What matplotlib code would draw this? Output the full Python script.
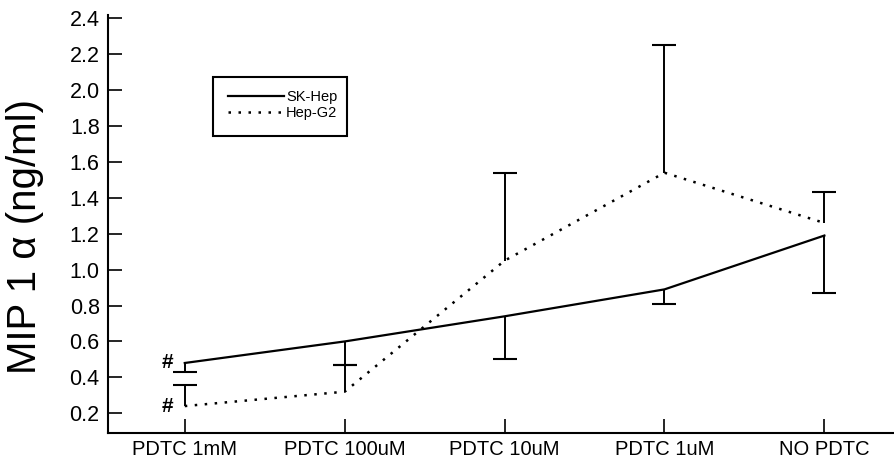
import numpy as np
import matplotlib
matplotlib.use("Agg")
import matplotlib.pyplot as plt
from matplotlib.patches import Rectangle
from matplotlib.lines import Line2D

plt.rcParams['font.family'] = ['Liberation Sans', 'DejaVu Sans']

#Data
categories = ["PDTC 1mM", "PDTC 100uM", "PDTC 10uM", "PDTC 1uM", "NO PDTC"]
sk_hep = [0.48, 0.60, 0.74, 0.89, 1.19]
sk_hep_err_low = [0.05, 0.13, 0.24, 0.08, 0.32]
hep_g2 = [0.24, 0.32, 1.05, 1.54, 1.26]
hep_g2_err_up = [0.12, 0.15, 0.49, 0.71, 0.17]
yticks = [0.2, 0.4, 0.6, 0.8, 1.0, 1.2, 1.4, 1.6, 1.8, 2.0, 2.2, 2.4]

x = np.arange(len(categories))
sk_low = np.array(sk_hep) - np.array(sk_hep_err_low)
g2_high = np.array(hep_g2) + np.array(hep_g2_err_up)

fig = plt.figure(figsize=(8.95, 4.71), dpi=100)
ax = fig.add_axes([0.1207, 0.0807, 0.879, 0.888])

dotted = (0, (1, 3))
ax.plot(x, sk_hep, color='black', lw=1.6, ls='-')
ax.plot(x, hep_g2, color='black', lw=1.8, ls=dotted)

# one sided error bars
ax.vlines(x, sk_low, sk_hep, color='black', lw=1.4)
ax.plot(x, sk_low, ls='none', marker='_', markersize=17, mew=1.5, color='black')
ax.vlines(x, hep_g2, g2_high, color='black', lw=1.4)
ax.plot(x, g2_high, ls='none', marker='_', markersize=17, mew=1.5, color='black')

# significance marks
ax.text(x[0] - 0.11, sk_hep[0], '#', ha='center', va='center', fontsize=15, fontweight='bold')
ax.text(x[0] - 0.11, hep_g2[0], '#', ha='center', va='center', fontsize=15, fontweight='bold')

ax.set_xlim(-0.48, 4.44)
ax.set_ylim(0.09, 2.42)
ax.set_xticks(x)
ax.set_xticklabels(categories, fontsize=14.5)
ax.set_yticks(yticks)
ax.set_yticklabels(["%.1f" % v for v in yticks], fontsize=15.5)
ax.tick_params(axis='both', direction='in', length=10, width=1.2, color='black')
ax.tick_params(axis='x', pad=5)
ax.tick_params(axis='y', pad=6)
for s in ['top', 'right']:
    ax.spines[s].set_visible(False)
for s in ['left', 'bottom']:
    ax.spines[s].set_linewidth(1.5)

ax.set_ylabel(u'MIP 1 \u03b1 (ng/ml)', fontsize=29)
ax.yaxis.set_label_coords(-0.082, 0.47)

# legend box
ax.add_patch(Rectangle((0.133, 0.711), 0.171, 0.141, transform=ax.transAxes,
                       fill=False, edgecolor='black', lw=1.5))
handles = [Line2D([], [], color='black', lw=1.6, ls='-'),
           Line2D([], [], color='black', lw=1.8, ls=dotted)]
leg = ax.legend(handles, ['SK-Hep', 'Hep-G2'], loc='upper left',
                bbox_to_anchor=(0.14, 0.845), frameon=False,
                fontsize=10.5, handlelength=3.8, handletextpad=0.15,
                labelspacing=0.15, borderpad=0.2)

fig.savefig("out.png", dpi=100)
